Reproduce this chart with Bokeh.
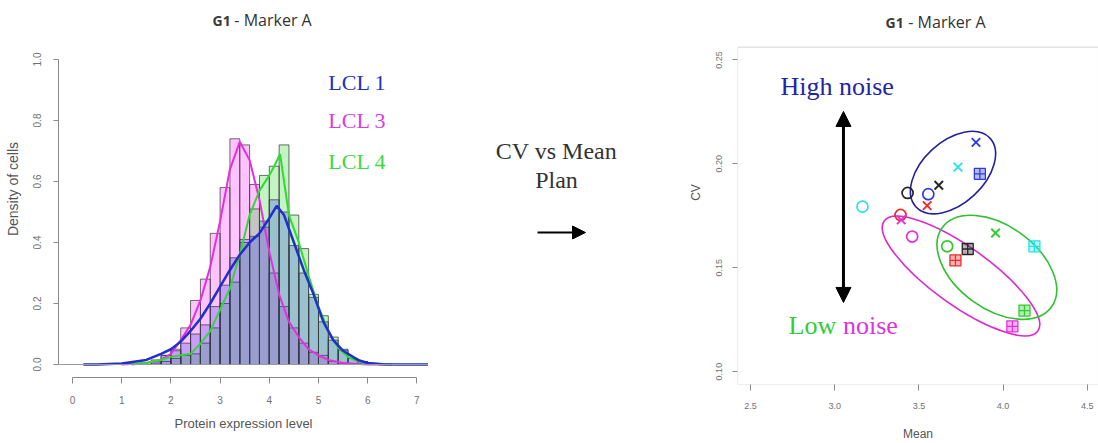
from bokeh.plotting import figure
from bokeh.layouts import row
from bokeh.models import (Range1d, FixedTicker, NumeralTickFormatter, Span, Label,
                          Arrow, NormalHead, BoxAnnotation)
from bokeh.embed import file_html
from bokeh.resources import INLINE

# ---------------- data: left panel (histograms + density curves) ----------------
BIN_W = 0.2
bin_left = [1.6, 1.8, 2.0, 2.2, 2.4, 2.6, 2.8, 3.0, 3.2, 3.4, 3.6,
            3.8, 4.0, 4.2, 4.4, 4.6, 4.8, 5.0, 5.2, 5.4, 5.6, 5.8]
hist_lcl3 = [0.01, 0.03, 0.05, 0.12, 0.21, 0.28, 0.43, 0.58, 0.74, 0.72, 0.59,
             0.45, 0.30, 0.19, 0.12, 0.07, 0.04, 0.03, 0.01, 0.005, 0.0, 0.0]
hist_lcl4 = [0.005, 0.01, 0.02, 0.03, 0.035, 0.07, 0.12, 0.20, 0.27, 0.40, 0.51,
             0.62, 0.65, 0.72, 0.49, 0.38, 0.23, 0.16, 0.09, 0.047, 0.02, 0.01]
hist_lcl1 = [0.015, 0.03, 0.045, 0.07, 0.10, 0.13, 0.19, 0.26, 0.35, 0.41, 0.42,
             0.47, 0.54, 0.50, 0.39, 0.30, 0.22, 0.14, 0.08, 0.05, 0.02, 0.01]

dens1_x = [0.22, 0.5, 1.0, 1.5, 1.8, 2.0, 2.2, 2.4, 2.6, 2.8, 3.0, 3.2, 3.4, 3.6,
           3.8, 4.0, 4.15, 4.3, 4.5, 4.7, 4.9, 5.1, 5.3, 5.5, 5.8, 6.0, 6.3, 6.6, 7.0, 7.3]
dens1_y = [0.0, 0.0, 0.003, 0.015, 0.035, 0.05, 0.075, 0.11, 0.15, 0.2, 0.255, 0.31,
           0.36, 0.40, 0.43, 0.48, 0.52, 0.49, 0.40, 0.31, 0.23, 0.14, 0.08, 0.045,
           0.015, 0.005, 0.001, 0.0, 0.0, 0.0]
dens3_x = [1.0, 1.5, 1.8, 2.0, 2.2, 2.4, 2.6, 2.8, 3.0, 3.2, 3.4, 3.6, 3.8, 4.0,
           4.2, 4.4, 4.6, 4.8, 5.0, 5.2, 5.5, 6.0, 6.5]
dens3_y = [0.0, 0.005, 0.015, 0.035, 0.08, 0.13, 0.21, 0.32, 0.47, 0.64, 0.73, 0.67,
           0.54, 0.37, 0.23, 0.14, 0.09, 0.05, 0.03, 0.015, 0.005, 0.0, 0.0]
dens4_x = [1.2, 1.5, 1.8, 2.0, 2.2, 2.4, 2.6, 2.8, 3.0, 3.2, 3.4, 3.6, 3.8, 4.0,
           4.1, 4.22, 4.3, 4.4, 4.6, 4.8, 5.0, 5.2, 5.4, 5.6, 5.8, 6.0, 6.5]
dens4_y = [0.0, 0.005, 0.015, 0.025, 0.03, 0.035, 0.068, 0.11, 0.18, 0.25, 0.36, 0.49,
           0.57, 0.62, 0.65, 0.69, 0.60, 0.49, 0.40, 0.29, 0.19, 0.11, 0.055, 0.025,
           0.01, 0.003, 0.0]

x_ticks_left = [0, 1, 2, 3, 4, 5, 6, 7]
y_ticks_left = [0.0, 0.2, 0.4, 0.6, 0.8, 1.0]
legend_labels = ["LCL 1", "LCL 3", "LCL 4"]

# ---------------- data: right panel (CV vs Mean) ----------------
pal = {"black": "#262626", "red": "#EE2A2A", "blue": "#2E3BE0",
       "cyan": "#2ADFEF", "magenta": "#EA2EDC", "green": "#2ECC2E"}

circ_mean = [3.165, 3.433, 3.556, 3.391, 3.460, 3.668]
circ_cv = [0.1794, 0.1860, 0.1854, 0.1754, 0.1650, 0.1603]
circ_col = ["cyan", "black", "blue", "red", "magenta", "green"]

cross_mean = [3.839, 3.732, 3.618, 3.549, 3.395, 3.955]
cross_cv = [0.2103, 0.1984, 0.1897, 0.1799, 0.1730, 0.1667]
cross_col = ["blue", "cyan", "black", "red", "magenta", "green"]

sq_mean = [3.862, 3.790, 3.717, 4.186, 4.127, 4.055]
sq_cv = [0.1952, 0.1590, 0.1535, 0.1603, 0.1294, 0.1218]
sq_col = ["blue", "black", "red", "cyan", "green", "magenta"]

ell_mean = [3.7025, 3.750, 3.963]
ell_cv = [0.1958, 0.1460, 0.1502]
ell_col = ["#22229E", "#DD28D2", "#30C030"]

x_ticks_right = [2.5, 3.0, 3.5, 4.0, 4.5]
y_ticks_right = [0.10, 0.15, 0.20, 0.25]

# plotting box of the right panel (axis limits)
box_x = (2.4228, 4.5665)
box_y = (0.0938, 0.2562)

TITLE_A = "G1"
TITLE_B = "- Marker A"
H = 443

AX_COL = "#8a8a8a"
LAB_COL = "#707070"
SANS = "Liberation Sans"
SERIF = "Liberation Serif"


def no_align(p):
    if "frame_align" in p.properties():
        p.frame_align = False


def style_axes(p, label_size):
    for ax in p.axis:
        ax.axis_line_color = AX_COL
        ax.major_tick_line_color = AX_COL
        ax.major_tick_in = 0
        ax.major_tick_out = 6
        ax.minor_tick_line_color = None
        ax.major_label_text_font = SANS
        ax.major_label_text_font_size = "10px"
        ax.major_label_text_color = LAB_COL
        ax.axis_label_text_font = SANS
        ax.axis_label_text_font_style = "normal"
        ax.axis_label_text_color = "#555555"
        ax.axis_label_text_font_size = label_size
    p.grid.visible = False


def add_title(p, xa, xb, y):
    p.add_layout(Label(x=xa, y=y, text=TITLE_A, text_font="Open Sans",
                       text_font_size="14px", text_font_style="bold",
                       text_color="#3a3a3a", text_baseline="middle"))
    p.add_layout(Label(x=xb, y=y, text=TITLE_B, text_font="Open Sans",
                       text_font_size="16px", text_color="#333333",
                       text_baseline="middle"))


# ---------------- left figure ----------------
p1 = figure(width=428, height=H, x_range=Range1d(-0.2846, 7.236),
            y_range=Range1d(-0.0426, 1.1934), output_backend="svg",
            toolbar_location=None, min_border_left=58, min_border_right=0,
            min_border_top=0, min_border_bottom=66)
no_align(p1)
p1.outline_line_color = None
style_axes(p1, "13px")
p1.yaxis.axis_label_text_font_size = "14px"

right_edges = [b + BIN_W for b in bin_left]
fills = [("#FF00FF", hist_lcl3), ("#00CD00", hist_lcl4), ("#1020F0", hist_lcl1)]
for col, h in fills:
    p1.quad(left=bin_left, right=right_edges, bottom=0, top=h,
            fill_color=col, fill_alpha=0.23, line_color="#3c3c3c",
            line_alpha=0.75, line_width=1)

p1.add_layout(Span(location=0, dimension="width", line_color="#9a9a9a", line_width=1))

p1.line(dens3_x, dens3_y, line_color="#E62EE0", line_width=2)
p1.line(dens4_x, dens4_y, line_color="#2FDB2F", line_width=2)
p1.line(dens1_x, dens1_y, line_color="#1F2ECC", line_width=2.5)

p1.xaxis.bounds = (0, 7)
p1.xaxis.ticker = FixedTicker(ticks=x_ticks_left)
p1.xaxis.axis_label = "Protein expression level"
p1.xaxis.major_label_standoff = 12
p1.xaxis.axis_label_standoff = 9
p1.yaxis.bounds = (0, 1)
p1.yaxis.ticker = FixedTicker(ticks=y_ticks_left)
p1.yaxis.formatter = NumeralTickFormatter(format="0.0")
p1.yaxis.major_label_orientation = "vertical"
p1.yaxis.axis_label = "Density of cells"
p1.yaxis.major_tick_out = 5
p1.yaxis.major_label_standoff = 12
p1.yaxis.axis_label_standoff = 10

leg_cols = ["#2230C0", "#DD3CDD", "#3CDA3C"]
leg_y = [0.925, 0.80, 0.666]
for t, c, yy in zip(legend_labels, leg_cols, leg_y):
    p1.add_layout(Label(x=5.2, y=yy, text=t, text_color=c, text_font=SERIF,
                        text_font_size="22px", text_baseline="middle",
                        text_align="left"))
add_title(p1, 2.846, 3.29, 1.128)

# ---------------- middle figure ----------------
p2 = figure(width=252, height=H, x_range=Range1d(0, 252), y_range=Range1d(H, 0),
            output_backend="svg", toolbar_location=None, x_axis_type=None,
            y_axis_type=None, min_border=0)
no_align(p2)
p2.outline_line_color = None
p2.grid.visible = False
for t, yy in [("CV vs Mean", 150), ("Plan", 179)]:
    p2.add_layout(Label(x=128, y=yy, text=t, text_color="#333333", text_font=SERIF,
                        text_font_size="24px", text_align="center",
                        text_baseline="middle"))
p2.add_layout(Arrow(x_start=109, y_start=232, x_end=157, y_end=232,
                    line_width=2, line_color="black",
                    end=NormalHead(size=13, fill_color="black", line_color="black")))

# ---------------- right figure ----------------
p3 = figure(width=418, height=H, x_range=Range1d(box_x[0], box_x[1]),
            y_range=Range1d(box_y[0], 0.2786), output_backend="svg",
            toolbar_location=None, min_border_left=57, min_border_right=0,
            min_border_top=0, min_border_bottom=55)
no_align(p3)
p3.outline_line_color = None
p3.add_layout(BoxAnnotation(left=box_x[0], right=box_x[1], bottom=box_y[0],
                            top=box_y[1], fill_color=None, line_color=AX_COL,
                            line_width=1.2, level="underlay"))
style_axes(p3, "12px")
for ax in p3.axis:
    ax.axis_line_color = None
    ax.major_label_text_font_size = "9px"
p3.xaxis.ticker = FixedTicker(ticks=x_ticks_right)
p3.xaxis.formatter = NumeralTickFormatter(format="0.0")
p3.xaxis.axis_label = "Mean"
p3.xaxis.major_label_standoff = 12
p3.xaxis.axis_label_standoff = 15
p3.yaxis.ticker = FixedTicker(ticks=y_ticks_right)
p3.yaxis.formatter = NumeralTickFormatter(format="0.00")
p3.yaxis.major_label_orientation = "vertical"
p3.yaxis.axis_label = "CV"
p3.yaxis.axis_label_text_align = "center"
p3.yaxis.major_tick_out = 5
p3.yaxis.major_label_standoff = 10
p3.yaxis.axis_label_standoff = 11

p3.ellipse(x=ell_mean[0], y=ell_cv[0], width=101, height=62, angle=43,
           angle_units="deg", width_units="screen", height_units="screen",
           fill_color=None, line_color=ell_col[0], line_width=1.6)
p3.ellipse(x=ell_mean[1], y=ell_cv[1], width=189, height=58, angle=-35.6,
           angle_units="deg", width_units="screen", height_units="screen",
           fill_color=None, line_color=ell_col[1], line_width=1.6)
p3.ellipse(x=ell_mean[2], y=ell_cv[2], width=135, height=83, angle=-36.1,
           angle_units="deg", width_units="screen", height_units="screen",
           fill_color=None, line_color=ell_col[2], line_width=1.6)

p3.scatter(circ_mean, circ_cv, marker="circle", size=11, fill_color=None,
           line_color=[pal[c] for c in circ_col], line_width=1.7)
p3.scatter(cross_mean, cross_cv, marker="x", size=12,
           line_color=[pal[c] for c in cross_col], line_width=1.9)
p3.scatter(sq_mean, sq_cv, marker="square_cross", size=11,
           fill_color=[pal[c] for c in sq_col], fill_alpha=0.35,
           line_color=[pal[c] for c in sq_col], line_width=1.3)

p3.add_layout(Arrow(x_start=3.052, y_start=0.1333, x_end=3.052, y_end=0.2252,
                    line_width=3, line_color="black",
                    start=NormalHead(size=15, fill_color="black", line_color="black"),
                    end=NormalHead(size=15, fill_color="black", line_color="black")))
p3.add_layout(Label(x=2.678, y=0.2371, text="High noise", text_color="#2424A8",
                    text_font=SERIF, text_font_size="26px", text_baseline="middle"))
p3.add_layout(Label(x=2.7257, y=0.1224, text="Low", text_color="#33CC33",
                    text_font=SERIF, text_font_size="26px", text_baseline="middle"))
p3.add_layout(Label(x=3.049, y=0.1224, text="noise", text_color="#DD33DD",
                    text_font=SERIF, text_font_size="26px", text_baseline="middle"))
add_title(p3, 3.3017, 3.437, 0.2681)

layout = row(p1, p2, p3)
open("out.html", "w").write(file_html(layout, INLINE))
